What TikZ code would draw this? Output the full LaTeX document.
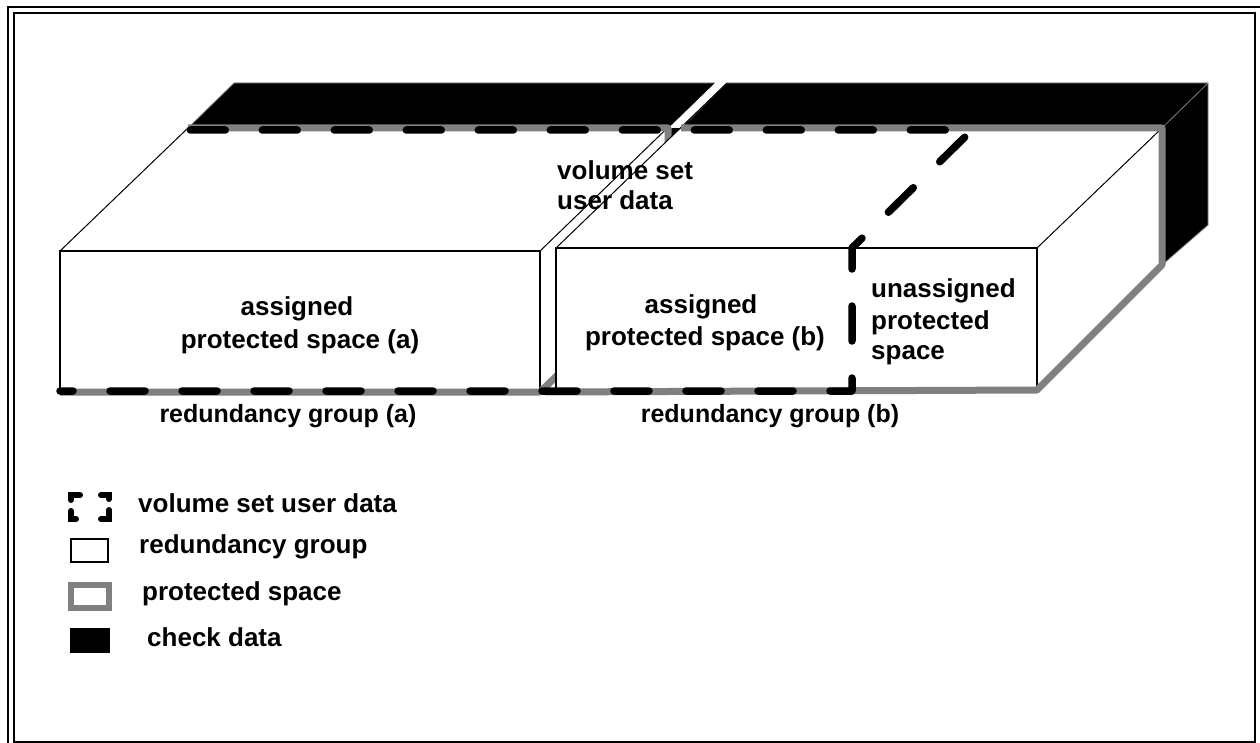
\documentclass[tikz,border=0pt]{standalone}
\usepackage{fontspec}
\setmainfont{Liberation Sans}
\definecolor{protgray}{RGB}{128,128,128}
\begin{document}
\begin{tikzpicture}[x=1pt,y=-1pt,
  frame/.style={draw=black, line width=2pt},
  edge/.style={draw=black, line width=1pt},
  face/.style={fill=white},
  frontface/.style={fill=white, draw=black, line width=2pt},
  slab/.style={fill=black, draw=protgray, line width=0.8pt, line join=round},
  prot/.style={draw=protgray, line width=7pt, line join=round},
  vsud/.style={draw=black, line width=7.5pt, line cap=round, line join=round, dash pattern=on 35pt off 37pt, dash phase=22pt},
  legvs/.style={draw=black, line width=6pt, line cap=round},
  txt/.style={font=\fontsize{26}{30}\selectfont\bfseries, inner sep=0pt},
  lbl/.style={font=\fontsize{25}{30}\selectfont\bfseries, inner sep=0pt}]
\clip (0,0) rectangle (1260,743);
\fill[white] (0,0) rectangle (1260,743);
% frames
\draw[frame] (8,760) -- (8,7) -- (1270,7);
\draw[frame] (13.7,13) rectangle (1255,742);

% ---------- redundancy group (a) ----------
\coordinate (AFL) at (60,251);  \coordinate (AFR) at (540,251);
\coordinate (ABL) at (60,392);  \coordinate (ABR) at (540,392);
\coordinate (ATL) at (188,128); \coordinate (ATR) at (668,128);
\coordinate (ARB) at (668,269);
\coordinate (ASL) at (234,83);  \coordinate (ASR) at (714,83);
% check data (a)
\path[slab] (ATL) -- (ASL) -- (ASR) -- (ATR) -- cycle;
\fill[black] (668,128) -- (700,128) -- (700,175) -- (668,175) -- cycle;
% faces
\path[face] (AFL) -- (ATL) -- (ATR) -- (AFR) -- cycle;
\path[face] (AFR) -- (ATR) -- (ARB) -- (ABR) -- cycle;
\draw[edge] (AFL) -- (ATL);
\draw[edge] (AFR) -- (ASR);
\draw[frontface] (AFL) rectangle (ABR);
\draw[prot] (ATL) -- (ATR) -- (ARB) -- (ABR) -- (ABL);

% ---------- redundancy group (b) ----------
\coordinate (BFL) at (556,248);  \coordinate (BFR) at (1037,248);
\coordinate (BBL) at (556,390);  \coordinate (BBR) at (1037,390);
\coordinate (BTL) at (681,128);  \coordinate (BTR) at (1162,128);
\coordinate (BRB) at (1162,265);
\coordinate (BSL) at (727,83);   \coordinate (BSR) at (1208,83);
\coordinate (BSB) at (1208,225);
% check data (b)
\path[slab] (BTL) -- (BSL) -- (BSR) -- (BSB) -- (BRB) -- (BTR) -- cycle;
% faces
\path[face] (BFL) -- (BTL) -- (BTR) -- (BFR) -- cycle;
\path[face] (BFR) -- (BTR) -- (BRB) -- (BBR) -- cycle;
\draw[edge] (BFL) -- (BSL);
\draw[edge] (BFR) -- (BTR);
\draw[protgray, line width=0.8pt] (BTR) -- (BSR);
\draw[frontface] (BFL) rectangle (BBR);
\draw[prot] (BTL) -- (BTR) -- (BRB) -- (BBR) -- (546,392);

% ---------- volume set user data ----------
\coordinate (V1) at (60,391);
\coordinate (V2) at (852,391);
\coordinate (V3) at (852,248);
\coordinate (V4) at (972,130);
\coordinate (V5) at (183,130);
\draw[vsud] (V1) -- (V2) -- (V3) -- (V4) -- (V5);

% ---------- texts ----------
\node[txt, anchor=base west] (vs1) at (557,180) {volume set};
\node[txt, anchor=base west] (vs2) at (557,210) {user data};
\node[txt, anchor=base] (asgA) at (297,315) {assigned};
\node[txt, anchor=base] (psA) at (300,348) {protected space (a)};
\node[txt, anchor=base] (asgB) at (701,313) {assigned};
\node[txt, anchor=base] (psB) at (705,345) {protected space (b)};
\node[txt, anchor=base west] (un1) at (871,298) {unassigned};
\node[txt, anchor=base west] (un2) at (871,329) {protected};
\node[txt, anchor=base west] (un3) at (871,359) {space};
\node[lbl, anchor=base] (rgA) at (288,422) {redundancy group (a)};
\node[lbl, anchor=base] (rgB) at (770,422) {redundancy group (b)};

% ---------- legend ----------
\draw[legvs] (80,495) -- (71,495) -- (71,500);
\draw[legvs] (71,511) -- (71,519) -- (76,519);
\draw[legvs] (101,495) -- (109,495) -- (109,499);
\draw[legvs] (109,510) -- (109,519) -- (101,519);
\draw[line width=2pt] (71,539) rectangle (108,562);
\draw[protgray, line width=6pt] (71,585) rectangle (109,608);
\fill[black] (70,628) rectangle (110,653);
\node[txt, anchor=base west] (l1) at (138,512) {volume set user data};
\node[txt, anchor=base west] (l2) at (139,553) {redundancy group};
\node[txt, anchor=base west] (l3) at (142,600) {protected space};
\node[txt, anchor=base west] (l4) at (147,646) {check data};
\end{tikzpicture}
\end{document}
